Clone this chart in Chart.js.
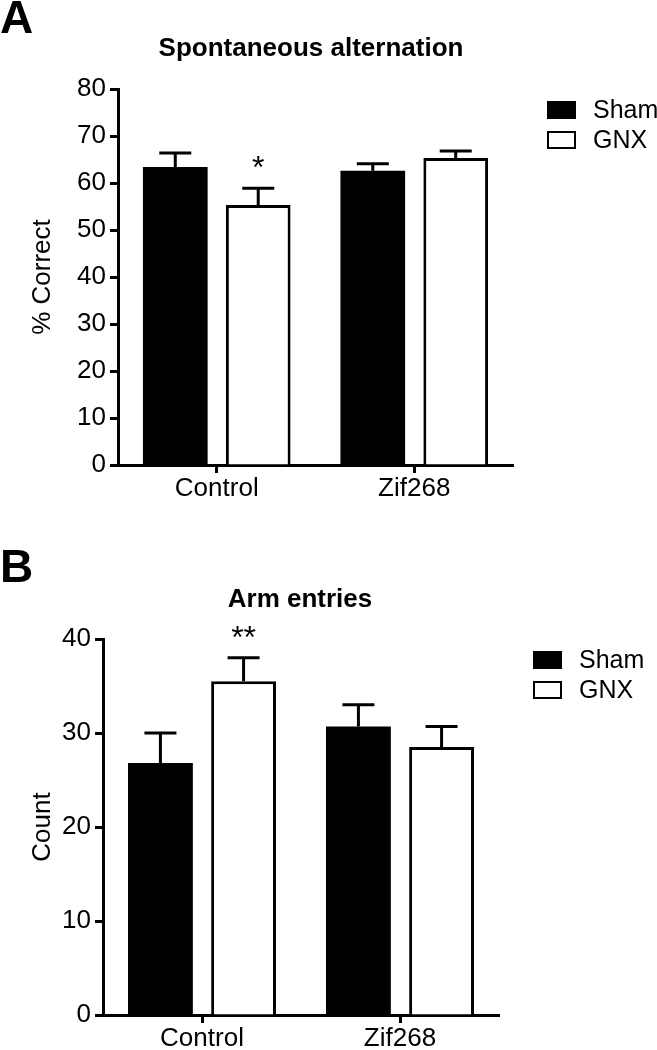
<!DOCTYPE html>
<html>
<head>
<meta charset="utf-8">
<script src="https://cdn.jsdelivr.net/npm/chart.js@4.4.1/dist/chart.umd.min.js"></script>
<style>
  body { margin: 0; background: #fff; }
  .panel { position: absolute; left: 0; width: 657px; height: 525px; }
</style>
</head>
<body>
<div class="panel" style="top:0"><canvas id="chartA" width="657" height="525"></canvas></div>
<div class="panel" style="top:525px"><canvas id="chartB" width="657" height="525"></canvas></div>
<script>
// groups + series
const groups = ['Control', 'Zif268'];
const seriesNames = ['Sham', 'GNX'];

// A: spontaneous alternation, % correct (mean + SEM)
const shamAltMean = [63.4, 62.6];
const shamAltSem = [3.0, 1.5];
const gnxAltMean = [55.3, 65.3];
const gnxAltSem = [3.6, 1.5];
const gnxAltStars = ['*', ''];
const altTicks = [0, 10, 20, 30, 40, 50, 60, 70, 80];

// B: arm entries, count (mean + SEM)
const shamArmMean = [26.8, 30.7];
const shamArmSem = [3.2, 2.3];
const gnxArmMean = [35.5, 28.5];
const gnxArmSem = [2.5, 2.2];
const gnxArmStars = ['**', ''];
const armTicks = [0, 10, 20, 30, 40];

const FONT = 'Arial, "Liberation Sans", Helvetica, sans-serif';

// error bars, stars, legend, title and panel letter
function decoPlugin(o) {
  return {
    id: 'deco',
    afterDatasetsDraw(chart) {
      const ctx = chart.ctx, y = chart.scales.y;
      ctx.save();
      ctx.strokeStyle = '#000';
      ctx.lineWidth = 3;
      chart.data.datasets.forEach((ds, i) => {
        chart.getDatasetMeta(i).data.forEach((bar, j) => {
          const top = y.getPixelForValue(ds.data[j] + ds.sem[j]);
          ctx.beginPath();
          ctx.moveTo(bar.x, bar.y);
          ctx.lineTo(bar.x, top);
          ctx.moveTo(bar.x - 16, top);
          ctx.lineTo(bar.x + 16, top);
          ctx.stroke();
          if (ds.stars && ds.stars[j]) {
            ctx.fillStyle = '#000';
            ctx.font = '32px ' + FONT;
            ctx.textAlign = 'center';
            ctx.textBaseline = 'alphabetic';
            ctx.fillText(ds.stars[j], bar.x, top - 10);
          }
        });
      });
      ctx.restore();
    },
    afterDraw(chart) {
      const ctx = chart.ctx, ca = chart.chartArea;
      ctx.save();
      // legend
      chart.data.datasets.forEach((ds, i) => {
        const bx = ca.right + 34, by = ca.top + 12 + i * 30;
        ctx.fillStyle = ds.backgroundColor;
        ctx.fillRect(bx, by, 29, 18);
        ctx.strokeStyle = '#000';
        ctx.lineWidth = 2;
        ctx.strokeRect(bx + 1, by + 1, 27, 16);
        ctx.fillStyle = '#000';
        ctx.font = '25px ' + FONT;
        ctx.textAlign = 'left';
        ctx.textBaseline = 'middle';
        ctx.fillText(ds.label, bx + 46, by + 10);
      });
      // chart title
      ctx.font = 'bold 26px ' + FONT;
      ctx.textAlign = 'center';
      ctx.textBaseline = 'alphabetic';
      ctx.fillText(o.title, o.titleX, o.titleY);
      // panel letter
      ctx.font = 'bold 46px ' + FONT;
      ctx.textAlign = 'left';
      ctx.fillText(o.letter, 0, o.letterY);
      ctx.restore();
    }
  };
}

function makeChart(id, o) {
  return new Chart(document.getElementById(id), {
    type: 'bar',
    data: {
      labels: groups,
      datasets: [{
        label: seriesNames[0],
        data: o.sham,
        sem: o.shamSem,
        backgroundColor: '#000000',
        borderWidth: 0
      }, {
        label: seriesNames[1],
        data: o.gnx,
        sem: o.gnxSem,
        stars: o.stars,
        backgroundColor: '#ffffff',
        borderColor: '#000000',
        borderWidth: 3
      }]
    },
    options: {
      responsive: false,
      animation: false,
      categoryPercentage: 0.84,
      barPercentage: 0.78,
      layout: { padding: { top: o.top, right: o.right, left: 0, bottom: 0 } },
      plugins: { legend: { display: false }, tooltip: { enabled: false } },
      scales: {
        x: {
          offset: true,
          grid: { offset: false, drawOnChartArea: false, color: '#000', tickLength: 8, tickWidth: 3 },
          border: { color: '#000', width: 3 },
          ticks: { color: '#000', font: { family: FONT, size: 26 }, padding: 0, maxRotation: 0 },
          afterFit: s => { s.height = o.xHeight; }
        },
        y: {
          min: o.ticks[0],
          max: o.ticks[o.ticks.length - 1],
          ticks: { stepSize: o.ticks[1] - o.ticks[0], color: '#000', font: { family: FONT, size: 26 }, padding: 4 },
          grid: { drawOnChartArea: false, color: '#000', tickLength: 8, tickWidth: 3 },
          border: { color: '#000', width: 3 },
          title: { display: true, text: o.yTitle, color: '#000', font: { family: FONT, size: 26 }, padding: { top: 27, bottom: 0 } },
          afterFit: s => { s.width = o.yWidth; }
        }
      }
    },
    plugins: [decoPlugin(o)]
  });
}

makeChart('chartA', {
  sham: shamAltMean, shamSem: shamAltSem, gnx: gnxAltMean, gnxSem: gnxAltSem, stars: gnxAltStars,
  ticks: altTicks, yTitle: '% Correct', title: 'Spontaneous alternation',
  titleX: 311, titleY: 56, letter: 'A', letterY: 33,
  top: 89, right: 144, yWidth: 118, xHeight: 60
});

makeChart('chartB', {
  sham: shamArmMean, shamSem: shamArmSem, gnx: gnxArmMean, gnxSem: gnxArmSem, stars: gnxArmStars,
  ticks: armTicks, yTitle: 'Count', title: 'Arm entries',
  titleX: 300, titleY: 82, letter: 'B', letterY: 57,
  top: 114, right: 158, yWidth: 103, xHeight: 35
});
</script>
</body>
</html>
